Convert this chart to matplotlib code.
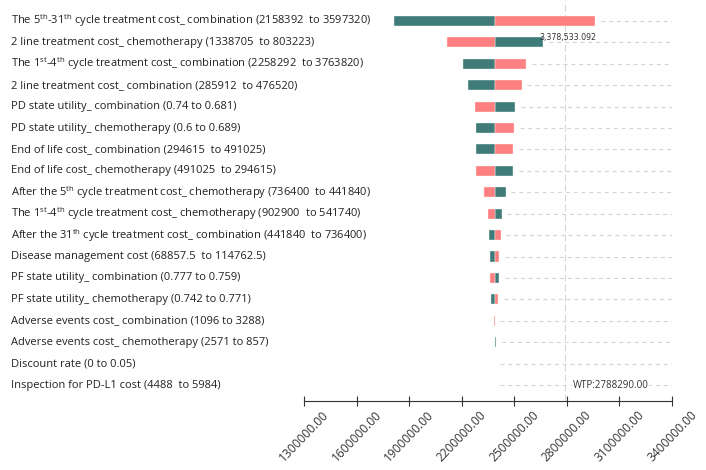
import matplotlib
matplotlib.use("Agg")
import matplotlib.pyplot as plt
from matplotlib.transforms import blended_transform_factory
from matplotlib import font_manager
import numpy as np

plt.rcParams['font.family'] = ['Open Sans', 'DejaVu Sans']
plt.rcParams['mathtext.fontset'] = 'custom'
plt.rcParams['mathtext.rm'] = 'Open Sans'
plt.rcParams['mathtext.it'] = 'Open Sans'
plt.rcParams['mathtext.bf'] = 'Open Sans'

labels = [
    r"The 5$^{\mathrm{th}}$-31$^{\mathrm{th}}$ cycle treatment cost_ combination (2158392  to 3597320)",
    "2 line treatment cost_ chemotherapy (1338705  to 803223)",
    r"The 1$^{\mathrm{st}}$-4$^{\mathrm{th}}$ cycle treatment cost_ combination (2258292  to 3763820)",
    "2 line treatment cost_ combination (285912  to 476520)",
    "PD state utility_ combination (0.74 to 0.681)",
    "PD state utility_ chemotherapy (0.6 to 0.689)",
    "End of life cost_ combination (294615  to 491025)",
    "End of life cost_ chemotherapy (491025  to 294615)",
    r"After the 5$^{\mathrm{th}}$ cycle treatment cost_ chemotherapy (736400  to 441840)",
    r"The 1$^{\mathrm{st}}$-4$^{\mathrm{th}}$ cycle treatment cost_ chemotherapy (902900  to 541740)",
    r"After the 31$^{\mathrm{th}}$ cycle treatment cost_ combination (441840  to 736400)",
    "Disease management cost (68857.5  to 114762.5)",
    "PF state utility_ combination (0.777 to 0.759)",
    "PF state utility_ chemotherapy (0.742 to 0.771)",
    "Adverse events cost_ combination (1096 to 3288)",
    "Adverse events cost_ chemotherapy (2571 to 857)",
    "Discount rate (0 to 0.05)",
    "Inspection for PD-L1 cost (4488  to 5984)",
]

base = 2388500.0
teal_end = [1815000, 2666000, 2209000, 2234000, 2506000, 2282000, 2282000, 2495000,
            2451000, 2428000, 2354000, 2362000, 2415000, 2366000, 2388500, 2395500,
            2388500, 2388500]
pink_end = [2961000, 2114000, 2567000, 2542000, 2276000, 2500000, 2495000, 2282000,
            2327000, 2350000, 2423000, 2415000, 2362000, 2409000, 2381500, 2388500,
            2388500, 2388500]
wtp = 2788290.0
annot_value = "3,378,533.092"
xticks = np.arange(1300000, 3400001, 300000)

teal = "#3f7b78"
pink = "#fe7f7f"

names = {f.name for f in font_manager.fontManager.ttflist}
narrow = "Liberation Sans Narrow" if "Liberation Sans Narrow" in names else None

fig = plt.figure(figsize=(7.06, 4.70), dpi=100)
ax = fig.add_axes([304/706, 1-401/470, (672-304)/706, 401/470])
ax.set_xlim(1300000, 3400000)
n = len(labels)
ax.set_ylim(n - 1 + 0.747, -0.98)

y = np.arange(n)
teal_end = np.array(teal_end, float)
pink_end = np.array(pink_end, float)
h = 0.47
for ends, col, ec in [(teal_end, teal, "#eef4f4"), (pink_end, pink, "#fff0f0")]:
    w = ends - base
    m = w != 0
    ax.barh(y[m], w[m], left=base, height=h, color=col, edgecolor=ec, linewidth=0.3, zorder=3)

# dashed guide lines to the right of bars
starts = np.maximum(np.maximum(teal_end, pink_end), base) + 32000
ax.hlines(y, starts, 3400000, colors="#d4d4d4", linewidth=0.8, linestyles=(0, (3.5, 3.5)), zorder=1)

# WTP vertical line
ax.axvline(wtp, color="#d6d6d6", linewidth=0.8, linestyle=(0, (6, 3)), zorder=2)
ax.text(wtp + 45000, n - 1, "WTP:" + f"{wtp:.2f}", fontsize=7.0, color="#333333",
        va="center", ha="left", zorder=4,
        bbox=dict(facecolor="white", edgecolor="none", pad=0.5))

if narrow:
    ax.text(2645000, 0.75, annot_value, fontsize=6.8, color="#333333", va="center", ha="left",
            family=[narrow, "DejaVu Sans"], zorder=5)
else:
    ax.text(2645000, 0.75, annot_value, fontsize=6.3, color="#333333", va="center", ha="left",
            family=["DejaVu Sans"], fontstretch="condensed", zorder=5)

# category labels
trans = blended_transform_factory(fig.transFigure, ax.transData)
for yi, lab in zip(y, labels):
    ax.text(11/706, yi, lab, transform=trans, ha="left", va="center", fontsize=8.0, color="#222222")

ax.set_yticks([])
for s in ["top", "left", "right"]:
    ax.spines[s].set_visible(False)
ax.spines["bottom"].set_color("#333333")
ax.spines["bottom"].set_linewidth(0.8)
ax.set_xticks(xticks)
ax.set_xticklabels([f"{v:.2f}" for v in xticks])
ax.tick_params(axis="x", direction="inout", length=7, width=0.8, color="#333333",
               labelsize=8.6, labelcolor="#333333", labelrotation=46, pad=2)

fig.savefig("out.png", dpi=100)
